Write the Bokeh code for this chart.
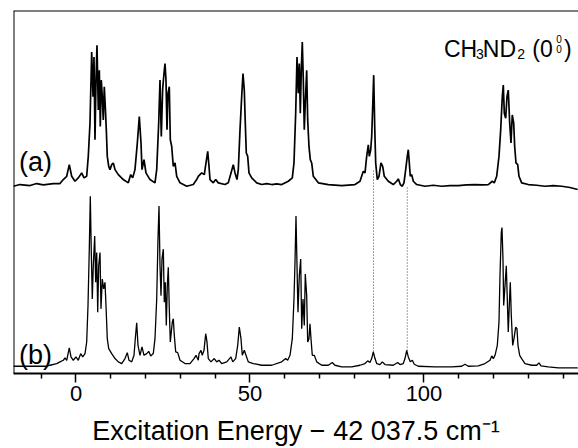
from bokeh.plotting import figure
from bokeh.models import Range1d, Span, Label, FixedTicker
from bokeh.embed import file_html
from bokeh.resources import INLINE

# ---- data (energy in cm^-1 relative to 42 037.5; signal in arbitrary units) ----
energy_a = [-18.0, -16.1, -13.2, -11.3, -9.4, -6.5, -4.6, -3.65, -2.67, -1.93,
            -1.24, -0.29, 0.66, 1.64, 2.30, 3.07, 3.53, 4.02, 4.51, 4.89,
            5.17, 5.46, 5.75, 6.03, 6.41, 6.70, 6.98, 7.27, 7.56, 7.84,
            8.13, 8.42, 8.71, 8.99, 9.40, 9.77, 10.26, 10.72, 11.21, 12.16,
            13.59, 15.03, 15.72, 16.29, 16.95, 17.62, 18.19, 18.68, 18.97, 19.54,
            20.11, 21.26, 22.70, 23.19, 23.76, 24.14, 24.51, 24.91, 25.29, 25.58,
            25.86, 26.15, 26.44, 26.81, 27.10, 27.50, 27.96, 28.45, 28.94, 29.89,
            31.81, 33.71, 34.68, 35.14, 36.12, 36.87, 37.36, 37.85, 38.22, 38.51,
            39.45, 40.14, 40.89, 42.82, 43.76, 44.54, 45.20, 45.69, 46.26, 46.64,
            47.13, 47.61, 47.99, 48.36, 48.65, 48.94, 49.34, 49.71, 50.49, 51.93,
            53.36, 54.80, 56.24, 57.67, 59.11, 61.01, 62.16, 62.64, 63.13, 63.51,
            63.88, 64.17, 64.46, 64.74, 65.03, 65.32, 65.60, 65.89, 66.29, 66.58,
            66.95, 67.33, 67.73, 68.19, 69.63, 72.50, 76.35, 80.17, 81.61, 82.56,
            83.05, 83.53, 84.00, 84.28, 84.69, 84.97, 85.26, 85.55, 85.84, 86.12,
            86.58, 87.07, 87.64, 88.13, 88.59, 89.74, 91.18, 92.16, 92.61, 93.19,
            93.76, 94.25, 94.74, 95.20, 95.49, 95.78, 96.06, 96.47, 96.93, 97.90,
            100.29, 102.67, 105.09, 107.47, 109.86, 112.27, 114.66, 117.04, 118.48, 119.63,
            120.20, 120.89, 121.55, 122.04, 122.50, 122.79, 123.08, 123.48, 123.85, 124.22,
            124.63, 125.00, 125.37, 125.78, 126.06, 126.44, 126.93, 127.30, 128.07, 129.97,
            132.39, 134.77, 137.16, 139.57, 141.95, 144.17]

signal_a = [188.3, 190, 189, 191, 189.7, 191, 191, 195, 198.3, 210,
            198.3, 193.3, 196.7, 201.7, 196.7, 198.3, 218.3, 251.7, 323.3, 278.3,
            318.3, 235, 295, 330, 265, 305, 248.3, 295, 278.3, 255,
            288.3, 268.3, 245, 218.3, 208.3, 205, 210, 211.7, 205, 200,
            195, 191.7, 200, 196.7, 205, 231.7, 258.3, 231.7, 205, 215,
            201.7, 195, 191.7, 205, 251.7, 295, 238.3, 286.7, 301.7, 311.7,
            295, 245, 281.7, 288.3, 235, 228.3, 208.3, 211.7, 198.3, 191.7,
            188.3, 190, 195, 198.3, 201.7, 200, 211.7, 223.3, 208.3, 195,
            191.7, 195, 191.7, 190, 191.7, 201.7, 210, 201.7, 195, 205,
            245, 278.3, 301.7, 285, 251.7, 221.7, 218.3, 201.7, 196.7, 191.7,
            190, 191, 190, 190.7, 190, 193.3, 196.7, 211.7, 261.7, 318.3,
            281.7, 311.7, 261.7, 305, 333.3, 295, 245, 271.7, 305, 255,
            228.3, 215, 211.7, 198.3, 191.7, 190, 189, 190, 193.3, 203.3,
            201.7, 218.3, 230, 218.3, 225, 238.3, 268.3, 300, 248.3, 211.7,
            195, 198.3, 211.7, 208.3, 198.3, 193.3, 190, 193.3, 195.7, 190,
            188.3, 191.7, 205, 218.3, 225, 211.7, 198.3, 200, 193.3, 190,
            188.3, 189.3, 188.3, 189, 189, 189.7, 190, 189.7, 190, 193.3,
            191.7, 198.3, 218.3, 245, 278.3, 290, 261.7, 256.7, 278.3, 285,
            251.7, 231.7, 260, 251.7, 228.3, 211.7, 210, 198.3, 191.7, 190,
            189.3, 188.3, 189, 188.3, 187, 185]

energy_b = [-18.02, -8.42, -7.47, -5.55, -4.60, -3.65, -3.16, -2.67, -1.93, -1.44,
            -0.78, 0.0, 0.66, 1.35, 1.93, 2.59, 3.07, 3.45, 3.82, 4.11,
            4.40, 4.68, 4.97, 5.37, 5.66, 5.95, 6.24, 6.52, 6.90, 7.18,
            7.56, 7.96, 8.33, 8.62, 8.99, 9.40, 10.26, 11.21, 12.16, 13.13,
            14.08, 14.74, 15.23, 16.01, 16.67, 17.04, 17.44, 17.82, 18.39, 18.97,
            19.54, 20.32, 20.89, 21.47, 22.21, 22.70, 23.19, 23.56, 23.85, 24.14,
            24.43, 24.71, 25.09, 25.37, 25.66, 25.95, 26.24, 26.52, 26.81, 27.10,
            27.39, 27.67, 27.96, 28.25, 28.65, 29.22, 29.89, 31.32, 32.76, 33.91,
            34.48, 35.14, 35.35, 35.92, 36.29, 36.78, 37.27, 37.64, 38.02, 38.79,
            39.74, 40.43, 41.09, 41.87, 43.31, 44.54, 45.03, 45.89, 46.47, 46.93,
            47.41, 47.79, 48.36, 48.85, 49.51, 50.95, 53.36, 56.24, 59.11, 60.26,
            60.83, 61.50, 62.16, 62.64, 62.93, 63.22, 63.51, 63.79, 64.17, 64.57,
            64.86, 65.23, 65.60, 65.89, 66.29, 66.58, 66.95, 67.24, 67.53, 67.90,
            68.48, 69.17, 70.61, 72.50, 73.65, 74.43, 76.35, 79.22, 81.61, 83.05,
            83.82, 84.48, 84.97, 85.43, 85.92, 86.41, 87.36, 88.02, 88.80, 91.18,
            92.44, 93.10, 94.05, 94.54, 95.03, 95.49, 96.06, 96.64, 97.21, 98.36,
            103.16, 107.96, 110.84, 111.78, 112.73, 115.61, 117.53, 118.97, 119.46, 119.92,
            120.41, 121.07, 121.55, 121.84, 122.21, 122.41, 122.70, 122.90, 123.28, 123.65,
            123.94, 124.22, 124.51, 124.80, 125.09, 125.49, 125.86, 126.35, 126.72, 127.01,
            127.50, 128.07, 129.02, 130.95, 132.39, 133.05, 133.62, 135.72, 138.59, 144.17]

signal_b = [7.3, 7.3, 8.3, 10, 11.7, 13.3, 15.7, 13.3, 25.7, 16.7,
            13.3, 16.7, 13.3, 20, 16.7, 20, 31.7, 68.3, 125, 178.3,
            121.7, 75, 108.3, 138.3, 91.7, 121.7, 61.7, 108.3, 121.7, 65,
            95, 85, 91.7, 68.3, 35, 25, 20, 15, 11.7, 10,
            15, 21, 13.3, 11.7, 18.3, 35, 51, 28.3, 18.3, 26.7,
            18.3, 20, 22.3, 17.7, 20, 35, 75, 135, 168.3, 108.3,
            78.3, 115, 125, 71.7, 91.7, 48.3, 88.3, 106.7, 65, 31.7,
            41.7, 51.7, 55, 38.3, 21.7, 21, 13.3, 10, 10, 15,
            18.3, 13.3, 20, 23.3, 18.3, 23.3, 40, 31.7, 15, 11.7,
            15, 11.7, 13.3, 10, 11.7, 16.7, 11.7, 15, 28.3, 46.7,
            35, 18.3, 23.3, 18.3, 11.7, 10, 8.3, 8.3, 11.7, 15,
            13.3, 18.3, 35, 75, 111.7, 158.3, 108.3, 61.7, 98.3, 115,
            45, 75, 48.3, 100, 78.3, 31.7, 35, 50, 35, 18.3,
            18.3, 11.7, 8.3, 8.3, 11, 8.3, 6.7, 6.7, 8.3, 10,
            12.7, 11, 15, 21.7, 15, 10, 9, 11.7, 9, 8.3,
            11, 9, 10, 15, 23.3, 16.7, 11.7, 13.3, 9.3, 7.3,
            6.7, 6.7, 7.3, 9.3, 7.3, 7.7, 10, 13.3, 17.7, 15,
            18.3, 28.3, 51.7, 98.3, 141.7, 146.7, 115, 68.3, 88.3, 108.3,
            75, 41.7, 68.3, 91.7, 58.3, 28.3, 35, 46.7, 45, 28.3,
            18.3, 15, 10, 8.3, 8.3, 10.7, 7.7, 6.7, 5.7, 5.7]

# dotted correlation lines between the two traces
guide_x = [85.5, 95.2]
guide_top = [204, 187]
guide_bottom = [22, 23]

major_ticks = [0, 50, 100]
minor_ticks = [-10, 10, 20, 30, 40, 60, 70, 80, 90, 110, 120, 130, 140]

X0, X1 = -17.96, 144.4
Y0, Y1 = 0, 365

FONT = "Liberation Sans"

p = figure(width=578, height=448, output_backend="svg", toolbar_location=None,
           x_range=Range1d(X0, X1), y_range=Range1d(Y0, Y1),
           min_border_left=13, min_border_right=0, min_border_top=10, min_border_bottom=73)
p.outline_line_color = None
p.xgrid.grid_line_color = None
p.ygrid.grid_line_color = None
p.yaxis.visible = False
p.background_fill_color = "white"
p.border_fill_color = "white"

ax = p.xaxis[0]
ax.ticker = FixedTicker(ticks=major_ticks, minor_ticks=minor_ticks)
ax.axis_line_width = 2
ax.axis_line_color = "black"
ax.major_tick_in = 0
ax.major_tick_out = 9
ax.minor_tick_in = 0
ax.minor_tick_out = 5
ax.major_tick_line_width = 1.5
ax.minor_tick_line_width = 1.5
ax.major_label_text_font = FONT
ax.major_label_text_font_size = "22px"
ax.major_label_text_color = "black"
ax.major_label_standoff = 3
ax.axis_label = "Excitation Energy \u2212 42 037.5 cm\u207b\u00b9"
ax.axis_label_text_font = FONT
ax.axis_label_text_font_size = "27px"
ax.axis_label_text_font_style = "normal"
ax.axis_label_text_color = "black"
ax.axis_label_standoff = 12

# frame borders (left and top)
p.add_layout(Span(location=X0, dimension="height", line_color="black", line_width=2))
p.add_layout(Span(location=Y1, dimension="width", line_color="black", line_width=2))

# traces
p.line(energy_a, signal_a, line_color="black", line_width=1.7)
p.line(energy_b, signal_b, line_color="black", line_width=1.3)
p.segment(x0=guide_x, y0=guide_top, x1=guide_x, y1=guide_bottom,
          line_color="#444444", line_width=1, line_dash="1 2")

# labels
def lab(text, x, y, size, align="left"):
    p.add_layout(Label(x=x, y=y, text=text, text_font=FONT, text_font_size=size,
                       text_color="black", text_baseline="alphabetic", text_align=align))

lab("(a)", -16.4, 213, "27px")
lab("(b)", -16.4, 18.3, "27px")
lab("CH", 105.75, 326, "23px")
lab("3", 114.94, 321.7, "14px")
lab("ND", 116.9, 326, "23px")
lab("2", 126.8, 321.7, "14px")
lab("(0", 131.1, 326, "23px")
lab("0", 138.0, 336.7, "10px")
lab("0", 138.0, 326.7, "10px")
lab(")", 140.2, 326, "23px")

open("out.html", "w").write(file_html(p, INLINE))
